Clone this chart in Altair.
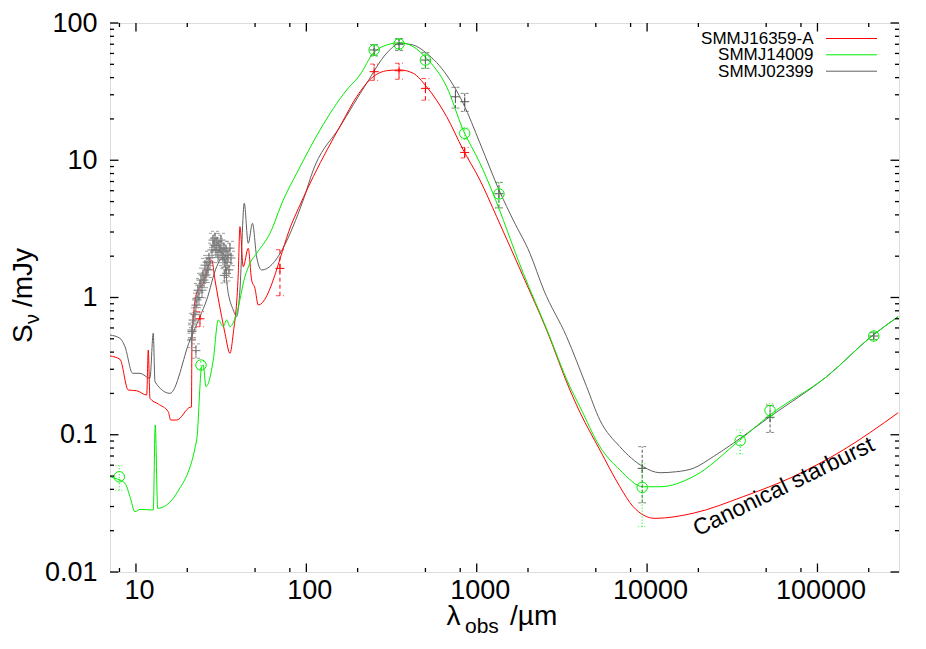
import altair as alt
import pandas as pd

# ---------------- model curves (wavelength in micron, flux in mJy) ----------------
red_lam = [7.04, 8.06, 9.01, 10.09, 11.56, 11.81, 12.08, 13.52, 15.47, 15.98, 17.34, 20.75, 21.17, 21.31,
           22.71, 24.83, 27.81, 29.09, 31.84, 33.30, 35.62, 37.24, 39.85, 40.76, 42.63, 45.6, 47.75, 49.93,
           52.2, 83.8, 109.8, 161.2, 197.3, 246.9, 296, 354.2, 424, 508, 666, 833, 1044, 1309, 1877,
           2572, 3523, 4033, 5284, 6925, 8287, 11110, 18640, 36640, 72030, 141500, 297600]
red_s = [0.375, 0.3546, 0.2118, 0.2094, 0.1948, 0.4145, 0.1842, 0.1675, 0.1472, 0.128, 0.128, 0.1585, 0.1593,
         0.49, 1.079, 1.275, 1.876, 1.341, 0.7246, 0.5485, 0.392, 0.5485, 1.501, 3.28, 1.676, 2.283, 1.341,
         1.167, 0.882, 3.67, 7.59, 18.6, 29.0, 40.6, 44.9, 45.5, 43.0, 34.3, 20.8, 11.9, 7.18, 3.88,
         1.418, 0.58, 0.212, 0.146, 0.0774, 0.0418, 0.0299, 0.0246, 0.0268, 0.0354, 0.0495, 0.0774, 0.1447]

green_lam = [7.04, 7.53, 8.62, 9.22, 9.87, 10.56, 12.63, 12.98, 13.41, 15.14, 17.34, 22.71, 24.30, 24.83, 25.75,
             28.42, 30.41, 32.53, 34.07, 35.62, 38.99, 43.62, 46.67, 51.1, 61.15, 73.17, 87.73, 120.2, 172.4,
             206.3, 246.9, 296, 354.2, 424, 508, 666, 833, 1044, 1223, 1877, 2572, 3523, 4033, 5284, 6925, 9487,
             11890, 18640, 35040, 52570, 113100, 212300, 297600]
green_s = [0.0495, 0.0482, 0.0443, 0.0354, 0.0275, 0.0286, 0.0283, 0.1178, 0.0291, 0.0308, 0.0375, 0.0915,
           0.3132, 0.3222, 0.224, 0.3505, 0.6857, 0.6128, 0.6857, 0.6128, 0.767, 1.418, 1.775, 2.10, 2.935, 5.13,
           8.03, 16.6, 32.5, 41.8, 60.2, 69.1, 71.9, 67.2, 55.3, 34.3, 16.6, 9.55, 6.07, 1.501, 0.59, 0.224,
           0.160, 0.0818, 0.0554, 0.0418, 0.0418, 0.0495, 0.0915, 0.1393, 0.2648, 0.533, 0.7246]

gray_lam = [7.04, 8.06, 8.62, 9.56, 10.56, 12.08, 12.63, 12.93, 15.83, 20.75, 23.75, 25.99, 29.76, 32.53, 34.81,
            37.24, 38.99, 40.76, 43.21, 45.6, 48.28, 51.1, 54.66, 95.9, 109.8, 157.5, 225.9, 296, 354.2, 424,
            508, 666, 833, 1044, 1368, 1637, 2052, 2474, 3371, 4416, 5284, 6925, 9487, 11890, 14900, 18640,
            24430, 32010, 52570, 113100, 212300, 297600]
gray_s = [0.533, 0.504, 0.438, 0.2804, 0.2804, 0.2577, 0.5485, 0.2434, 0.2004, 0.49, 0.7246, 0.959, 1.676,
          1.983, 1.073, 0.811, 0.7246, 1.134, 4.86, 2.483, 3.47, 1.973, 1.586, 5.13, 8.49, 17.55, 36.4, 60.2,
          71.1, 69.1, 60.2, 41.8, 26.0, 13.36, 5.87, 3.67, 2.10, 1.134, 0.518, 0.224, 0.128, 0.0818, 0.0585,
          0.0529, 0.0538, 0.0569, 0.0692, 0.0866, 0.1353, 0.2648, 0.533, 0.7246]

# ---------------- photometry ----------------
red_pt_lam = [23.75, 70, 250, 350, 500, 850]
red_pt_s = [0.70, 1.63, 44.2, 44.9, 33.4, 11.4]
red_pt_err = [0.088, 0.6, 6, 6, 6, 1.0]

green_pt_lam = [7.98, 24.07, 250, 350, 500, 850, 1350, 9360, 35200, 52700, 214000]
green_pt_s = [0.0494, 0.322, 63.6, 70.3, 53.7, 15.7, 5.68, 0.0414, 0.0905, 0.150, 0.524]
green_pt_err = [0.01, 0.02, 6, 6, 7, 1.5, 1.2, 0.02, 0.018, 0.018, 0.03]

gray_pt_lam = [250, 350, 500, 750, 850, 1350, 9360, 52700, 214000]
gray_pt_s = [63.6, 70.0, 53.7, 29.0, 26.7, 5.7, 0.0569, 0.134, 0.524]
gray_pt_err = [6, 7, 7, 5, 4, 1.2, 0.025, 0.03, 0.03]

irs_lam = [21.17, 21.31, 21.60, 22.19, 22.49, 22.80, 23.11, 23.43, 23.75, 24.07, 24.40, 24.73, 25.07, 25.41,
           25.76, 26.11, 26.46, 26.82, 27.19, 27.93, 28.31, 28.70, 29.09, 29.49, 29.89, 30.29, 30.71, 31.12,
           31.55, 31.98, 32.41, 32.85, 33.30, 33.75, 34.21, 34.67, 35.15, 35.62, 36.11, 33.0, 34.0, 22.49, 21.31]
irs_s = [0.49, 0.58, 0.685, 0.75, 0.88, 0.96, 1.13, 1.0, 1.23, 1.34, 1.13, 1.46, 1.34, 1.72, 1.46, 1.81, 1.59,
         1.94, 1.81, 2.22, 2.62, 2.41, 2.71, 2.22, 2.54, 2.04, 2.41, 2.22, 2.62, 2.15, 1.94, 2.29, 1.88, 2.22,
         1.81, 2.04, 1.59, 2.29, 1.94, 1.45, 1.5, 0.41, 0.565]
irs_rel_err = 0.12

# ---------------- axes ----------------
x_major = [10, 100, 1000, 10000, 100000]
x_minor = [8, 20, 50, 80, 200, 500, 800, 2000, 5000, 8000, 20000, 50000, 80000, 200000]
y_major = [0.01, 0.1, 1, 10, 100]
y_minor = [k * 10.0 ** e for e in (-2, -1, 0, 1) for k in range(2, 10)]

series_names = ["SMMJ16359-A", "SMMJ14009", "SMMJ02399"]
series_colors = ["#ff0000", "#00ee00", "#606060"]
annot_lam, annot_s, annot_text = [66130], [0.03763], ["Canonical starburst"]

W, H = 789, 549
FONT = "Liberation Sans"

xs = alt.Scale(type="log", domain=[7.04, 301000], nice=False)
ys = alt.Scale(type="log", domain=[0.01, 100], nice=False)
xaxis = alt.Axis(values=x_major, format="~g", ticks=False, domain=False, grid=False, labelFontSize=27,
                 labelFont=FONT, labelColor="black", labelPadding=5, labelOffset=3, labelFlush=False, title=None)
yaxis = alt.Axis(values=y_major, format="~g", ticks=False, domain=False, grid=False, labelFontSize=27,
                 labelFont=FONT, labelColor="black", labelPadding=13, labelFlush=False, title=None)


def X(f):
    return alt.X(f, type="quantitative", scale=xs, axis=xaxis)


def Y(f):
    return alt.Y(f, type="quantitative", scale=ys, axis=yaxis)


layers = []

# curves
for lam, s, col in [(gray_lam, gray_s, series_colors[2]), (red_lam, red_s, series_colors[0]),
                    (green_lam, green_s, series_colors[1])]:
    df = pd.DataFrame({"lam": lam, "s": s, "i": range(len(lam))})
    layers.append(alt.Chart(df).mark_line(color=col, strokeWidth=1, clip=True, interpolate="monotone").encode(
        x=X("lam"), y=Y("s"), order="i:Q"))


def points(lam, s, err, col, dash, shape, size):
    df = pd.DataFrame({"lam": lam, "s": s, "err": err})
    df["lo"] = df["s"] - df["err"]
    df["hi"] = df["s"] + df["err"]
    base = alt.Chart(df)
    out = [
        base.mark_rule(color=col, strokeWidth=1, strokeDash=dash).encode(x=X("lam"), y=Y("lo"), y2="hi"),
        base.mark_point(shape="M-1,0L1,0", size=64, filled=False, color=col, strokeWidth=1,
                        strokeDash=dash).encode(x=X("lam"), y=Y("lo")),
        base.mark_point(shape="M-1,0L1,0", size=64, filled=False, color=col, strokeWidth=1,
                        strokeDash=dash).encode(x=X("lam"), y=Y("hi")),
        base.mark_point(shape=shape, size=size, filled=False, color=col, strokeWidth=1, opacity=1).encode(
            x=X("lam"), y=Y("s")),
    ]
    return out


PLUS = "M-1,0L1,0M0,-1L0,1"
irs_err = [v * irs_rel_err for v in irs_s]
layers += points(irs_lam, irs_s, irs_err, "#777777", [3, 2], PLUS, 81)
layers += points(gray_pt_lam, gray_pt_s, gray_pt_err, "#555555", [3, 2], PLUS, 81)
layers += points(red_pt_lam, red_pt_s, red_pt_err, "#ff0000", [4, 3], PLUS, 81)
layers += points(green_pt_lam, green_pt_s, green_pt_err, "#00ee00", [1, 2], "circle", 110)

# inward ticks (all four sides)
dx_maj = pd.DataFrame({"v": x_major})
dx_min = pd.DataFrame({"v": x_minor})
dy_maj = pd.DataFrame({"v": y_major})
dy_min = pd.DataFrame({"v": y_minor})
for d, ln in [(dx_maj, 8.5), (dx_min, 4)]:
    layers.append(alt.Chart(d).mark_rule(color="black", strokeWidth=1.3).encode(
        x=X("v"), y=alt.value(H), y2=alt.value(H - ln)))
    layers.append(alt.Chart(d).mark_rule(color="black", strokeWidth=1.3).encode(
        x=X("v"), y=alt.value(0), y2=alt.value(ln)))
for d, ln in [(dy_maj, 8.5), (dy_min, 4)]:
    layers.append(alt.Chart(d).mark_rule(color="black", strokeWidth=1.3).encode(
        y=Y("v"), x=alt.value(0), x2=alt.value(ln)))
    layers.append(alt.Chart(d).mark_rule(color="black", strokeWidth=1.3).encode(
        y=Y("v"), x=alt.value(W), x2=alt.value(W - ln)))

# annotation
ann = pd.DataFrame({"lam": annot_lam, "s": annot_s, "t": annot_text})
layers.append(alt.Chart(ann).mark_text(angle=334, fontSize=23, font=FONT, color="black", align="center",
                                       baseline="alphabetic").encode(x=X("lam"), y=Y("s"), text="t:N"))

# legend (label left, line sample right)
one = alt.Data(values=[{"k": 1}])
leg_y = [21, 37.3, 53.7]
for name, col, ly in zip(series_names, series_colors, leg_y):
    layers.append(alt.Chart(one).mark_text(align="right", baseline="alphabetic", fontSize=17, font=FONT,
                                           color="black").encode(
        x=alt.value(703.5), y=alt.value(ly), text=alt.value(name)))
    layers.append(alt.Chart(one).mark_rule(color=col, strokeWidth=1).encode(
        x=alt.value(716), x2=alt.value(767), y=alt.value(ly - 5.5)))


# axis titles with subscripts
def txt(t, x, y, size, angle=0):
    return alt.Chart(one).mark_text(align="left", baseline="alphabetic", fontSize=size, font=FONT,
                                    color="black", angle=angle).encode(
        x=alt.value(x), y=alt.value(y), text=alt.value(t))


layers.append(txt("λ", 336.5, 602, 28))
layers.append(txt("obs", 355, 610, 21))
layers.append(txt("/µm", 400, 602, 28))
layers.append(txt("S", -78, 320, 28, 270))
layers.append(txt("ν", -71, 301, 20, 270))
layers.append(txt("/mJy", -78, 284, 28, 270))

chart = alt.layer(*layers).properties(
    width=W, height=H,
    autosize=alt.AutoSizeParams(type="none"),
    padding={"left": 102, "top": 15, "right": 10, "bottom": 72},
).configure_view(stroke="black", strokeWidth=1.5).configure(background="white")

chart.save("out.html", embed_options={"renderer": "svg", "actions": False})
